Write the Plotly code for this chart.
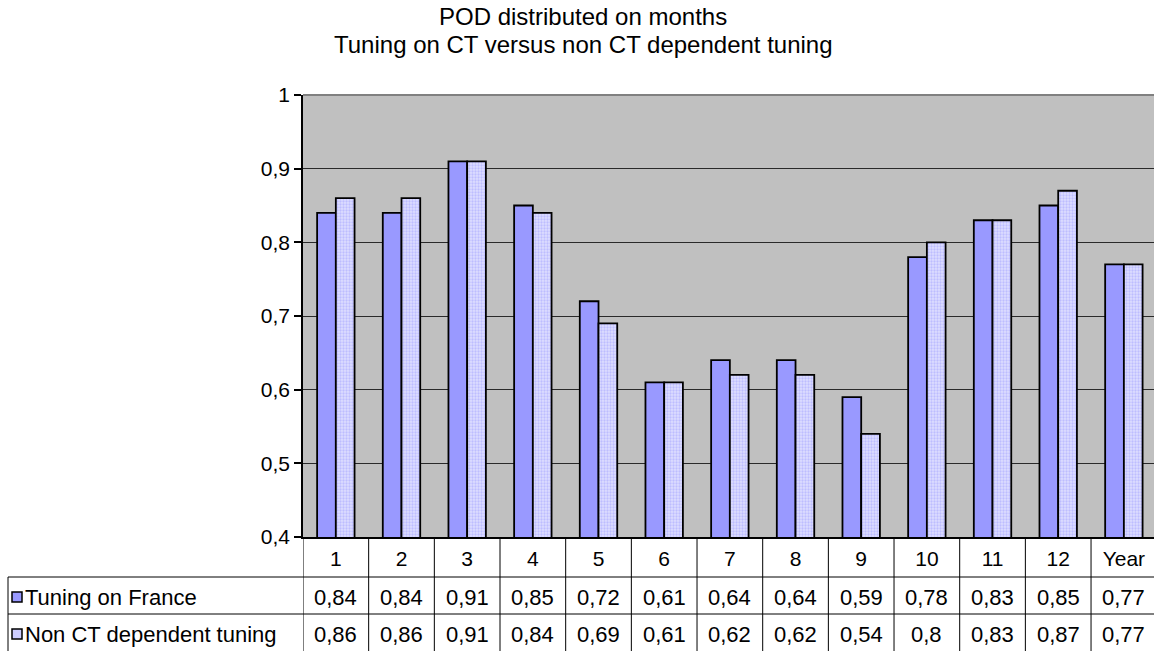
import plotly.graph_objects as go

# Categories and series values
categories = ["1", "2", "3", "4", "5", "6", "7", "8", "9", "10", "11", "12", "Year"]
tuning_france = [0.84, 0.84, 0.91, 0.85, 0.72, 0.61, 0.64, 0.64, 0.59, 0.78, 0.83, 0.85, 0.77]
non_ct_tuning = [0.86, 0.86, 0.91, 0.84, 0.69, 0.61, 0.62, 0.62, 0.54, 0.80, 0.83, 0.87, 0.77]
series_names = ["Tuning on France", "Non CT dependent tuning"]
title_lines = ["POD distributed on months", "Tuning on CT versus non CT dependent tuning"]
y_ticks = [0.4, 0.5, 0.6, 0.7, 0.8, 0.9, 1.0]

W, H = 1154, 651
L, R, T, B = 303, 0, 95, 114
PW, PH = W - L - R, H - T - B
FONT = "Liberation Sans, Arial, sans-serif"
FS = 21


def px_x(px):
    return (px - L) / PW


def px_y(py):
    return (H - B - py) / PH


def fmt(v):
    return f"{v:g}".replace(".", ",")


fig = go.Figure()
fig.add_trace(go.Bar(
    x=categories, y=tuning_france, name=series_names[0],
    marker=dict(color="#9999FF", line=dict(color="black", width=1.8)),
))
fig.add_trace(go.Bar(
    x=categories, y=non_ct_tuning, name=series_names[1],
    marker=dict(color="#D6D6FF", line=dict(color="black", width=1.8),
                pattern=dict(shape=".", fgcolor="#9C9CFF", bgcolor="#DEDEFF",
                             size=3, solidity=0.45)),
))

shapes = []
annotations = []

# top border of the plot area
shapes.append(dict(type="line", xref="paper", yref="paper", x0=0, x1=1, y0=1, y1=1,
                   line=dict(color="#808080", width=2), layer="above"))

# data table grid
y_bottom = px_y(H)
row1_top = px_y(577)
row2_top = px_y(614)
for k in range(len(categories) + 1):
    shapes.append(dict(type="line", xref="x", yref="paper", x0=k - 0.5, x1=k - 0.5,
                       y0=0, y1=y_bottom, line=dict(color="black", width=1)))
shapes.append(dict(type="line", xref="paper", yref="paper", x0=px_x(8), x1=px_x(8),
                   y0=row1_top, y1=y_bottom, line=dict(color="black", width=1)))
for yy in (row1_top, row2_top):
    shapes.append(dict(type="line", xref="paper", yref="paper", x0=px_x(8), x1=1,
                       y0=yy, y1=yy, line=dict(color="black", width=1)))

# table rows: legend key, series name, values
row_centers = [597, 634]
key_fills = ["#9999FF", "#CCCCFF"]
for series, name, cy, fill in zip([tuning_france, non_ct_tuning], series_names, row_centers, key_fills):
    shapes.append(dict(type="rect", xref="paper", yref="paper",
                       x0=px_x(12), x1=px_x(22), y0=px_y(cy - 5), y1=px_y(cy + 5),
                       fillcolor=fill, line=dict(color="black", width=1.5)))
    annotations.append(dict(xref="paper", yref="paper", x=px_x(23), y=px_y(cy),
                            text=name, showarrow=False, xanchor="left", yanchor="middle",
                            font=dict(family=FONT, size=22, color="black")))
    for i, v in enumerate(series):
        annotations.append(dict(xref="x", yref="paper", x=i, y=px_y(cy),
                                text=fmt(v), showarrow=False, xanchor="center",
                                yanchor="middle",
                                font=dict(family=FONT, size=22, color="black")))

# two-line chart title
for line, cy in zip(title_lines, [17, 45]):
    annotations.append(dict(xref="paper", yref="paper", x=px_x(583), y=px_y(cy),
                            text=line, showarrow=False, xanchor="center",
                            yanchor="middle",
                            font=dict(family=FONT, size=24, color="black")))

fig.update_layout(
    width=W, height=H,
    margin=dict(l=L, r=R, t=T, b=B, pad=0),
    paper_bgcolor="white",
    plot_bgcolor="#C0C0C0",
    barmode="group",
    bargap=0.43,
    bargroupgap=0,
    showlegend=False,
    separators=", ",
    font=dict(family=FONT, size=FS, color="black"),
    xaxis=dict(
        type="category",
        range=[-0.5, -0.5 + PW / 65.67],
        showgrid=False, zeroline=False,
        showline=True, linecolor="black", linewidth=1.5,
        ticks="", ticklabelstandoff=2,
        tickfont=dict(family=FONT, size=FS, color="black"),
    ),
    yaxis=dict(
        range=[0.4, 1.0],
        tickvals=y_ticks,
        showgrid=True, gridcolor="#2a2a2a", gridwidth=1.2,
        zeroline=False,
        showline=True, linecolor="black", linewidth=1.5,
        ticks="outside", ticklen=7, tickcolor="black", tickwidth=1.5,
        tickfont=dict(family=FONT, size=FS, color="black"),
    ),
    shapes=shapes,
    annotations=annotations,
)

fig.write_html("out.html")
